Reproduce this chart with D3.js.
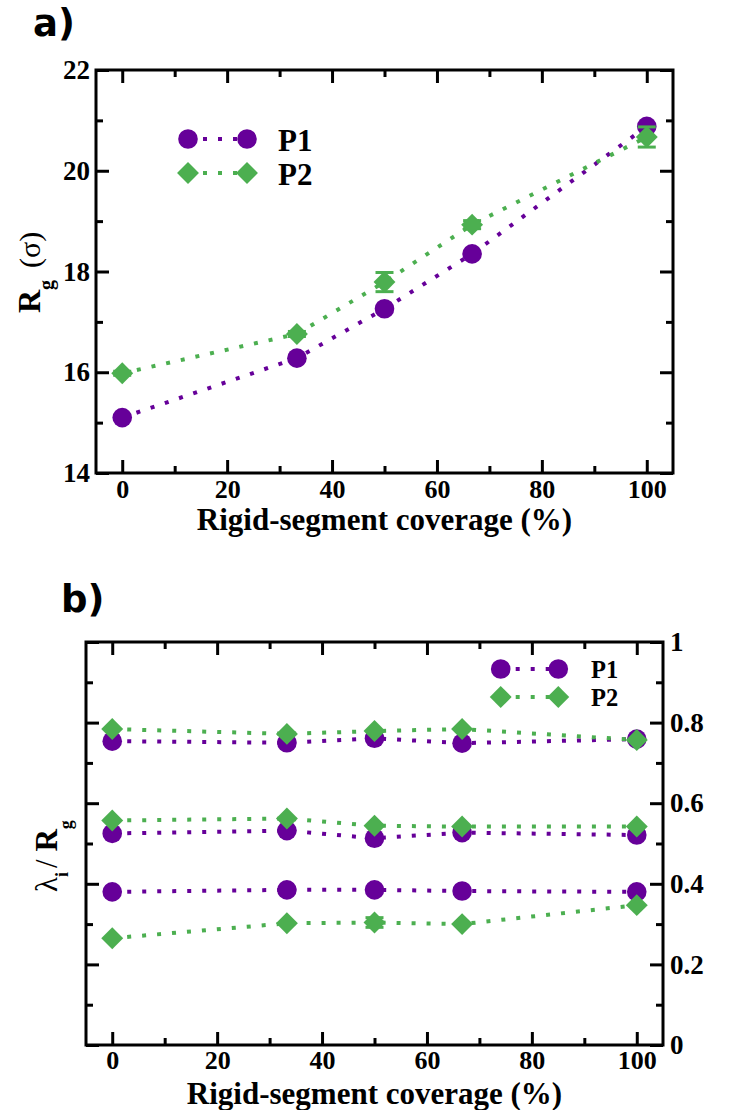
<!DOCTYPE html>
<html>
<head>
<meta charset="utf-8">
<script src="https://cdn.jsdelivr.net/npm/d3@7"></script>
<style>
  html, body { margin: 0; padding: 0; background: #fff; }
  svg { display: block; }
  .tick text { font-family: "Liberation Serif", "Times New Roman", serif; font-weight: bold; fill: #000; }
</style>
</head>
<body>
<svg id="fig" width="732" height="1110"></svg>
<script>
// Rigid-segment coverage (%) shared by both panels
const coverage = [0, 33.3, 50, 66.7, 100];

// Panel a: radius of gyration Rg (sigma)
const rgP1 = [15.10, 16.28, 17.26, 18.35, 20.88];
const rgP2 = [15.98, 16.76, 17.79, 18.93, 20.67];
const rgP2Err = [0.04, 0.05, 0.19, 0.08, 0.20];

// Panel b: eigenvalues of the gyration tensor scaled by Rg
const lam1P1 = [0.754, 0.750, 0.761, 0.749, 0.759];
const lam1P2 = [0.784, 0.772, 0.779, 0.784, 0.757];
const lam2P1 = [0.525, 0.532, 0.513, 0.527, 0.521];
const lam2P2 = [0.557, 0.562, 0.544, 0.542, 0.542];
const lam3P1 = [0.380, 0.385, 0.385, 0.382, 0.380];
const lam3P2 = [0.265, 0.302, 0.304, 0.300, 0.347];
const lam3P2Err = [0, 0, 0.012, 0, 0];

// Axis ticks
const xMajor = [0, 20, 40, 60, 80, 100];
const xMinor = [10, 30, 50, 70, 90];
const rgMajor = [14, 16, 18, 20, 22];
const rgMinor = [15, 17, 19, 21];
const lamMajor = [0, 0.2, 0.4, 0.6, 0.8, 1];
const lamMinor = [0.1, 0.3, 0.5, 0.7, 0.9];

const seriesNames = ["P1", "P2"];
const PURPLE = "#660099";
const GREEN = "#4caf50";
const SERIF = '"Liberation Serif", "Times New Roman", serif';

const svg = d3.select("#fig");

const diamond = d3.symbol(d3.symbolSquare, 240);

function drawFrame(g, x, y, opt) {
  const [x0, x1] = x.range();
  const [y0, y1] = y.range(); // y0 bottom, y1 top
  const MAJ = 13, MIN = 7;
  const style = sel => {
    sel.select(".domain").remove();
    sel.selectAll(".tick line").attr("stroke", "#000").attr("stroke-width", 3);
  };
  // bottom
  g.append("g").attr("transform", `translate(0,${y0})`)
    .call(d3.axisBottom(x).tickValues(xMajor).tickSize(-MAJ).tickPadding(opt.xPad).tickFormat(d3.format("d")))
    .call(style)
    .call(s => s.selectAll(".tick text").attr("font-size", opt.tickFont));
  g.append("g").attr("transform", `translate(0,${y0})`)
    .call(d3.axisBottom(x).tickValues(xMinor).tickSize(-MIN).tickFormat(""))
    .call(style);
  // top
  g.append("g").attr("transform", `translate(0,${y1})`)
    .call(d3.axisTop(x).tickValues(xMajor).tickSize(-MAJ).tickFormat(""))
    .call(style);
  g.append("g").attr("transform", `translate(0,${y1})`)
    .call(d3.axisTop(x).tickValues(xMinor).tickSize(-MIN).tickFormat(""))
    .call(style);
  // left
  const left = d3.axisLeft(y).tickValues(opt.yMajor).tickSize(-MAJ).tickPadding(opt.yPad);
  left.tickFormat(opt.labelSide === "left" ? d3.format("d") : "");
  g.append("g").attr("transform", `translate(${x0},0)`)
    .call(left).call(style)
    .call(s => s.selectAll(".tick text").attr("font-size", opt.yTickFont));
  g.append("g").attr("transform", `translate(${x0},0)`)
    .call(d3.axisLeft(y).tickValues(opt.yMinor).tickSize(-MIN).tickFormat(""))
    .call(style);
  // right
  const right = d3.axisRight(y).tickValues(opt.yMajor).tickSize(-MAJ).tickPadding(opt.yPad);
  right.tickFormat(opt.labelSide === "right" ? (d => d3.format("")(d)) : "");
  g.append("g").attr("transform", `translate(${x1},0)`)
    .call(right).call(style)
    .call(s => s.selectAll(".tick text").attr("font-size", opt.yTickFont));
  g.append("g").attr("transform", `translate(${x1},0)`)
    .call(d3.axisRight(y).tickValues(opt.yMinor).tickSize(-MIN).tickFormat(""))
    .call(style);
  // box
  g.append("rect")
    .attr("x", x0).attr("y", y1).attr("width", x1 - x0).attr("height", y0 - y1)
    .attr("fill", "none").attr("stroke", "#000").attr("stroke-width", 3);
}

function drawSeries(g, x, y, values, kind, color, err) {
  const pts = coverage.map((c, i) => [c, values[i]]);
  g.append("path")
    .attr("d", d3.line().x(d => x(d[0])).y(d => y(d[1]))(pts))
    .attr("fill", "none").attr("stroke", color).attr("stroke-width", 4)
    .attr("stroke-dasharray", "4 11");
  if (err) {
    const eb = g.append("g").attr("stroke", color).attr("stroke-width", 3);
    pts.forEach((d, i) => {
      if (!err[i]) return;
      const cx = x(d[0]), top = y(d[1] + err[i]), bot = y(d[1] - err[i]);
      eb.append("line").attr("x1", cx).attr("x2", cx).attr("y1", top).attr("y2", bot);
      eb.append("line").attr("x1", cx - 9).attr("x2", cx + 9).attr("y1", top).attr("y2", top);
      eb.append("line").attr("x1", cx - 9).attr("x2", cx + 9).attr("y1", bot).attr("y2", bot);
    });
  }
  drawMarkers(g, pts.map(d => [x(d[0]), y(d[1])]), kind, color);
}

function drawMarkers(g, xy, kind, color) {
  if (kind === "circle") {
    g.selectAll(null).data(xy).join("circle")
      .attr("cx", d => d[0]).attr("cy", d => d[1]).attr("r", 9.8)
      .attr("fill", color);
  } else {
    g.selectAll(null).data(xy).join("path")
      .attr("d", diamond)
      .attr("transform", d => `translate(${d[0]},${d[1]}) rotate(45)`)
      .attr("fill", color);
  }
}

function drawLegend(g, x0, x1, xt, rows, font) {
  rows.forEach(r => {
    g.append("line").attr("x1", x0).attr("x2", x1).attr("y1", r.y).attr("y2", r.y)
      .attr("stroke", r.color).attr("stroke-width", 4).attr("stroke-dasharray", "4 11");
    drawMarkers(g, [[x0, r.y], [x1, r.y]], r.kind, r.color);
    g.append("text").attr("x", xt).attr("y", r.y + font * 0.38)
      .attr("font-family", SERIF).attr("font-weight", "bold").attr("font-size", font)
      .text(r.name);
  });
}

// ---------- Panel a ----------
const ga = svg.append("g");
const xa = d3.scaleLinear([-5, 105], [96, 673]);
const ya = d3.scaleLinear([14, 22], [473, 70]);
drawFrame(ga, xa, ya, { yMajor: rgMajor, yMinor: rgMinor, labelSide: "left", tickFont: 26, yTickFont: 27, xPad: 7, yPad: 6 });
drawSeries(ga, xa, ya, rgP1, "circle", PURPLE, null);
drawSeries(ga, xa, ya, rgP2, "diamond", GREEN, rgP2Err);
drawLegend(ga, 188, 247, 278, [
  { y: 139, name: seriesNames[0], kind: "circle", color: PURPLE },
  { y: 173, name: seriesNames[1], kind: "diamond", color: GREEN }
], 31);

ga.append("text").attr("x", 384.5).attr("y", 530).attr("text-anchor", "middle")
  .attr("font-family", SERIF).attr("font-weight", "bold").attr("font-size", 31)
  .text("Rigid-segment coverage (%)");

const yta = ga.append("text").attr("transform", "translate(40,313) rotate(-90)")
  .attr("font-family", SERIF).attr("font-size", 32);
yta.append("tspan").attr("font-weight", "bold").text("R");
yta.append("tspan").attr("font-weight", "bold").attr("font-size", 20).attr("dy", 13).text("g");
yta.append("tspan").attr("dy", -13).attr("dx", 12).attr("font-size", 30).text("(σ)");

ga.append("text").attr("x", 33).attr("y", 36)
  .attr("font-family", '"DejaVu Sans", sans-serif').attr("font-weight", "bold").attr("font-size", 37)
  .text("a)");

// ---------- Panel b ----------
const gb = svg.append("g");
const xb = d3.scaleLinear([-5, 105], [86, 663]);
const yb = d3.scaleLinear([0, 1], [1045, 642]);
drawFrame(gb, xb, yb, { yMajor: lamMajor, yMinor: lamMinor, labelSide: "right", tickFont: 26, yTickFont: 27, xPad: 6, yPad: 7 });
[[lam1P1, lam1P2, null], [lam2P1, lam2P2, null], [lam3P1, lam3P2, lam3P2Err]].forEach(([a, b, e]) => {
  drawSeries(gb, xb, yb, a, "circle", PURPLE, null);
  drawSeries(gb, xb, yb, b, "diamond", GREEN, e);
});
drawLegend(gb, 500.7, 558.3, 591, [
  { y: 669, name: seriesNames[0], kind: "circle", color: PURPLE },
  { y: 697, name: seriesNames[1], kind: "diamond", color: GREEN }
], 24.5);

gb.append("text").attr("x", 374.5).attr("y", 1104).attr("text-anchor", "middle")
  .attr("font-family", SERIF).attr("font-weight", "bold").attr("font-size", 31)
  .text("Rigid-segment coverage (%)");

const ytb = gb.append("text").attr("transform", "translate(57,892) rotate(-90)")
  .attr("font-family", SERIF).attr("font-size", 31);
ytb.append("tspan").text("λ");
ytb.append("tspan").attr("font-weight", "bold").attr("font-size", 18).attr("dy", 11).text("i");
ytb.append("tspan").attr("dy", -11).attr("dx", 4).text("/ ");
ytb.append("tspan").attr("font-weight", "bold").text("R");
ytb.append("tspan").attr("font-weight", "bold").attr("font-size", 18).attr("dy", 15).text("g");

gb.append("text").attr("x", 61).attr("y", 612)
  .attr("font-family", '"DejaVu Sans", sans-serif').attr("font-weight", "bold").attr("font-size", 37)
  .text("b)");
</script>
</body>
</html>
